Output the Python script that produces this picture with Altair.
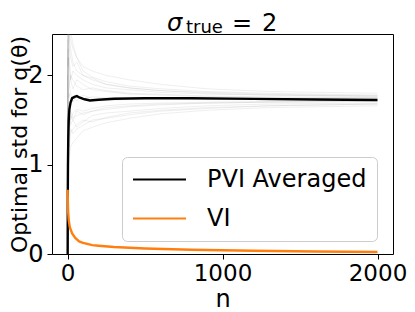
import altair as alt
import pandas as pd

# ---------------- data ----------------
# individual runs (thin gray lines)
N_RUNS = [1, 2, 4, 7, 12, 20, 35, 60, 100, 160, 250, 400, 600, 900, 1300, 2000]
RUN_A = [0, 2.6, 2.9, 2.7, 2.5, 2.4, 2.3, 2.2, 2.1, 2.05, 2.0, 1.95, 1.9, 1.85, 1.82, 1.80]
RUN_B = [0, 0.5, 0.8, 1.0, 1.1, 1.2, 1.25, 1.3, 1.38, 1.42, 1.47, 1.52, 1.57, 1.61, 1.64, 1.66]
RUN_C = [0, 1.8, 2.3, 2.1, 1.9, 2.0, 1.95, 1.88, 1.84, 1.86, 1.83, 1.80, 1.79, 1.77, 1.76, 1.75]
RUN_D = [0, 1.1, 1.5, 1.7, 1.55, 1.5, 1.58, 1.62, 1.6, 1.63, 1.66, 1.68, 1.69, 1.70, 1.71, 1.72]
RUN_E = [0, 3.2, 2.6, 2.4, 2.6, 2.5, 2.35, 2.2, 2.05, 1.98, 1.93, 1.88, 1.85, 1.82, 1.80, 1.78]
RUN_F = [0, 1.4, 1.9, 1.75, 1.8, 1.7, 1.76, 1.72, 1.78, 1.74, 1.72, 1.73, 1.74, 1.73, 1.73, 1.73]
RUN_G = [0, 0.7, 1.2, 1.3, 1.2, 1.35, 1.4, 1.45, 1.5, 1.48, 1.53, 1.58, 1.61, 1.64, 1.66, 1.68]
RUN_H = [0, 2.2, 1.9, 2.2, 2.1, 1.95, 2.05, 2.0, 1.95, 1.9, 1.86, 1.84, 1.81, 1.79, 1.78, 1.77]
RUN_I = [0, 1.6, 1.3, 1.5, 1.7, 1.6, 1.52, 1.55, 1.58, 1.6, 1.62, 1.65, 1.67, 1.69, 1.70, 1.71]
RUN_J = [0, 2.9, 3.1, 2.8, 2.3, 2.2, 2.1, 2.15, 2.0, 1.95, 1.9, 1.86, 1.83, 1.80, 1.78, 1.76]
RUN_K = [0, 0.9, 1.0, 1.4, 1.6, 1.45, 1.5, 1.42, 1.48, 1.55, 1.58, 1.6, 1.63, 1.66, 1.68, 1.69]
RUN_L = [0, 2.0, 1.7, 1.85, 1.9, 1.8, 1.7, 1.78, 1.74, 1.76, 1.75, 1.74, 1.75, 1.74, 1.74, 1.74]
RUN_M = [0, 1.3, 2.0, 2.4, 2.2, 1.95, 1.85, 1.95, 1.9, 1.84, 1.82, 1.79, 1.78, 1.76, 1.75, 1.75]
RUN_N = [0, 0.6, 1.1, 1.2, 1.35, 1.55, 1.5, 1.6, 1.56, 1.6, 1.64, 1.66, 1.68, 1.69, 1.70, 1.71]
RUN_O = [0, 2.4, 2.1, 2.6, 2.4, 2.3, 2.15, 2.05, 2.0, 1.97, 1.9, 1.86, 1.83, 1.81, 1.79, 1.77]
RUN_P = [0, 1.5, 1.2, 1.1, 1.3, 1.4, 1.35, 1.4, 1.44, 1.5, 1.52, 1.56, 1.6, 1.63, 1.66, 1.68]
RUNS = [RUN_A, RUN_B, RUN_C, RUN_D, RUN_E, RUN_F, RUN_G, RUN_H,
        RUN_I, RUN_J, RUN_K, RUN_L, RUN_M, RUN_N, RUN_O, RUN_P]

# PVI averaged (black)
N_AVG = [1, 2, 3, 5, 8, 12, 20, 30, 45, 60, 80, 110, 145, 200, 300, 500, 800, 1200, 1600, 2000]
PVI_AVG = [0.0, 0.7, 1.0, 1.3, 1.5, 1.62, 1.7, 1.745, 1.76, 1.768, 1.75, 1.733, 1.72, 1.728,
           1.738, 1.745, 1.744, 1.737, 1.731, 1.725]

# VI (orange)
N_VI = [1, 2, 4, 8, 15, 30, 50, 75, 100, 160, 200, 300, 500, 800, 1200, 1600, 2000]
VI = [0.72, 0.6, 0.48, 0.38, 0.3, 0.23, 0.18, 0.14, 0.125, 0.10, 0.093, 0.078, 0.062,
      0.047, 0.036, 0.028, 0.022]

SERIES = ["PVI Averaged", "VI"]
COLORS = ["black", "#ff7f0e"]
X_TICKS = [0, 1000, 2000]
Y_TICKS = [0, 1, 2]

# ---------------- tables ----------------
gray_rows = []
for i, run in enumerate(RUNS):
    for n, v in zip(N_RUNS, run):
        gray_rows.append({"n": n, "value": v, "run": i})
gray_df = pd.DataFrame(gray_rows)

main_df = pd.concat([
    pd.DataFrame({"n": N_AVG, "value": PVI_AVG, "series": SERIES[0]}),
    pd.DataFrame({"n": N_VI, "value": VI, "series": SERIES[1]}),
], ignore_index=True)

FONT = "DejaVu Sans"

x_scale = alt.Scale(domain=[-100, 2100], nice=False, zero=False)
y_scale = alt.Scale(domain=[0, 2.464], nice=False, zero=False)

x_enc = alt.X("n:Q", scale=x_scale,
              axis=alt.Axis(values=X_TICKS, title="n", format="d", labelFlush=False,
                            labelFontSize=23, labelPadding=3, titlePadding=2))
y_enc = alt.Y("value:Q", scale=y_scale,
              axis=alt.Axis(values=Y_TICKS, title="Optimal std for q(θ)", format="d",
                            labelPadding=4, titleFontSize=22, titleAngle=270,
                            titleBaseline="alphabetic", titleAlign="center",
                            titleX=-26, titleY=110))

gray = alt.Chart(gray_df).mark_line(
    clip=True, strokeWidth=0.9, opacity=0.14, color="#808080"
).encode(x=x_enc, y=y_enc, detail="run:N")

main = alt.Chart(main_df).mark_line(clip=True, strokeWidth=2.4).encode(
    x=x_enc,
    y=y_enc,
    color=alt.Color(
        "series:N",
        scale=alt.Scale(domain=SERIES, range=COLORS),
        legend=alt.Legend(
            title=None,
            orient="none",
            legendX=70,
            legendY=123,
            symbolType="stroke",
            symbolSize=2809,
            symbolStrokeWidth=2,
            clipHeight=25,
            labelFontSize=24,
            labelLimit=400,
            labelFont=FONT,
            labelColor="black",
            labelOffset=20,
            rowPadding=14,
            padding=10,
            strokeColor="#cccccc",
            cornerRadius=5,
            fillColor="rgba(255,255,255,0.8)",
        ),
    ),
)

one = pd.DataFrame({"k": [0]})
t_sigma = alt.Chart(one).mark_text(
    text="σ", font=FONT, fontStyle="italic", fontSize=24, align="left",
    baseline="alphabetic", color="black"
).encode(x=alt.value(115), y=alt.value(-3.5))
t_sub = alt.Chart(one).mark_text(
    text="true", font=FONT, fontSize=18, align="left",
    baseline="alphabetic", color="black"
).encode(x=alt.value(134), y=alt.value(-1))
t_eq = alt.Chart(one).mark_text(
    text="=", font=FONT, fontSize=24, align="left",
    baseline="alphabetic", color="black"
).encode(x=alt.value(180), y=alt.value(-3.5))
t_two = alt.Chart(one).mark_text(
    text="2", font=FONT, fontSize=24, align="left",
    baseline="alphabetic", color="black"
).encode(x=alt.value(210), y=alt.value(-3.5))

chart = alt.layer(gray, main, t_sigma, t_sub, t_eq, t_two).properties(
    width=341,
    height=220,
    autosize=alt.AutoSizeParams(type="none"),
    padding={"left": 44, "top": 26, "right": 14, "bottom": 58},
).configure_view(
    stroke="black", strokeWidth=1
).configure_axis(
    labelFont=FONT, labelFontSize=24, labelColor="black",
    titleFont=FONT, titleFontSize=24, titleFontWeight="normal", titleColor="black",
    tickColor="black", tickSize=5, grid=False, domain=False,
)

chart.save("out.html", embed_options={"renderer": "svg", "actions": False})
